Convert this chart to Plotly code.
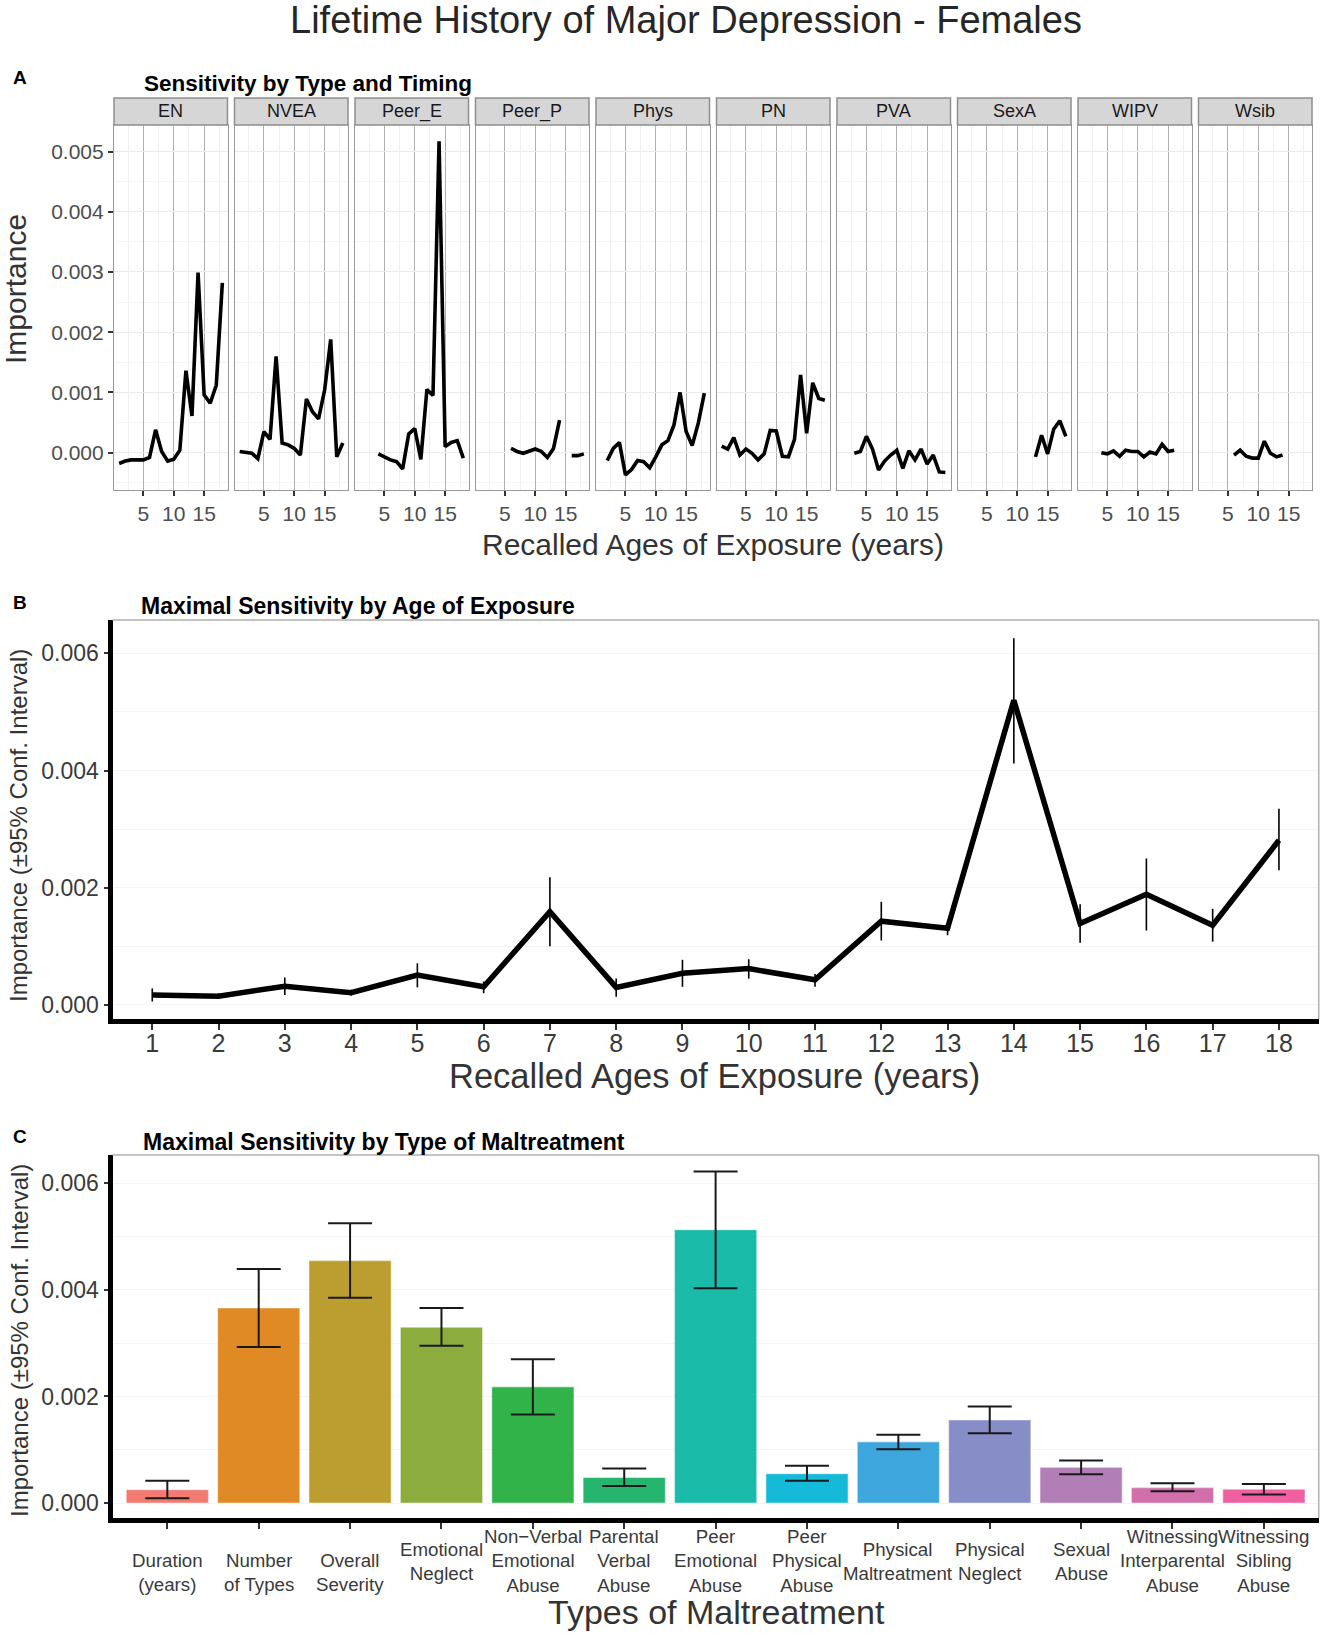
import plotly.graph_objects as go

W, H = 1323, 1635
FONT = "Liberation Sans, Arial, sans-serif"

# ---------------- data ----------------
ages = list(range(1, 19))
facet_names = ["EN", "NVEA", "Peer_E", "Peer_P", "Phys", "PN", "PVA", "SexA", "WIPV", "Wsib"]

EN = [-0.00018, -0.00014, -0.00012, -0.00012, -0.00012, -0.00008, 0.00038, 0.00002, -0.00014,
      -0.00011, 0.00004, 0.00136, 0.00061, 0.00299, 0.00096, 0.00082, 0.00112, 0.00282]
NVEA = [0.00002, 0.00001, -0.00001, -0.0001, 0.00035, 0.00022, 0.0016, 0.00016, 0.00013,
        0.00007, -0.00004, 0.00089, 0.00068, 0.00056, 0.00104, 0.00188, -0.00007, 0.00016]
Peer_E = [None, None, None, -0.00002, -0.00007, -0.00012, -0.00015, -0.00027, 0.00031,
          0.0004, -0.00011, 0.00105, 0.00095, 0.00517, 0.0001, 0.00017, 0.0002, -0.00009]
Peer_P = [None, None, None, None, None, 0.00007, 0.00002, -0.00001, 0.00003,
          0.00006, 0.00002, -0.00008, 0.00007, 0.00054, None, -0.00005, -0.00005, -0.00002]
Phys = [None, -0.00013, 0.00007, 0.00017, -0.00037, -0.00028, -0.00013, -0.00015, -0.00025,
        -0.00007, 0.00013, 0.0002, 0.00046, 0.001, 0.00035, 0.00012, 0.00049, 0.00099]
PN = [0.00011, 0.00006, 0.00025, -0.00004, 0.00006, -0.00001, -0.00012, -0.00002, 0.00037,
      0.00036, -0.00006, -0.00007, 0.00022, 0.00129, 0.00032, 0.00116, 0.0009, 0.00087]
PVA = [None, None, -0.00001, 0.00002, 0.00027, 0.00006, -0.00029, -0.00014, -0.00004,
       0.00004, -0.00026, 0.00003, -0.00012, 0.00006, -0.00019, -0.00004, -0.00032, -0.00033]
SexA = [None, None, None, None, None, None, None, None, None,
        None, None, None, -0.00007, 0.00029, -0.00002, 0.00039, 0.00053, 0.00027]
WIPV = [None, None, None, 0.0, -0.00002, 0.00003, -0.00006, 0.00004, 0.00002,
        0.00002, -0.00007, 0.00001, -0.00002, 0.00014, 0.00002, 0.00004, None, None]
Wsib = [None, None, None, None, None, -0.00004, 0.00004, -0.00006, -0.00009,
        -0.00009, 0.00019, -0.00001, -0.00007, -0.00004, None, None, None, None]
facet_series = [EN, NVEA, Peer_E, Peer_P, Phys, PN, PVA, SexA, WIPV, Wsib]

# Panel B
B_val = [0.00017, 0.00015, 0.00032, 0.00021, 0.00051, 0.00031, 0.00159, 0.0003, 0.00054,
         0.00062, 0.00043, 0.00143, 0.00131, 0.0052, 0.00139, 0.00189, 0.00136, 0.00281]
B_lo = [0.00006, 0.0001, 0.00017, 0.00016, 0.0003, 0.0002, 0.001, 0.00014, 0.00031,
        0.00045, 0.00031, 0.0011, 0.00119, 0.00412, 0.00106, 0.00127, 0.00108, 0.0023]
B_hi = [0.00028, 0.0002, 0.00047, 0.00026, 0.00071, 0.0004, 0.00218, 0.00045, 0.00077,
        0.00078, 0.00053, 0.00176, 0.00136, 0.00626, 0.00172, 0.0025, 0.00164, 0.00335]

# Panel C
C_labels = ["Duration<br>(years)", "Number<br>of Types", "Overall<br>Severity",
            "Emotional<br>Neglect", "Non\u2212Verbal<br>Emotional<br>Abuse",
            "Parental<br>Verbal<br>Abuse", "Peer<br>Emotional<br>Abuse",
            "Peer<br>Physical<br>Abuse", "Physical<br>Maltreatment", "Physical<br>Neglect",
            "Sexual<br>Abuse", "Witnessing<br>Interparental<br>Abuse",
            "Witnessing<br>Sibling<br>Abuse"]
C_val = [0.00025, 0.00366, 0.00455, 0.0033, 0.00218, 0.00048, 0.00513,
         0.00055, 0.00115, 0.00156, 0.00067, 0.00029, 0.00026]
C_lo = [0.00009, 0.00293, 0.00385, 0.00295, 0.00166, 0.00032, 0.00403,
        0.00042, 0.00101, 0.00131, 0.00054, 0.00022, 0.00016]
C_hi = [0.00042, 0.00439, 0.00525, 0.00366, 0.0027, 0.00065, 0.00622,
        0.0007, 0.00128, 0.00181, 0.0008, 0.00037, 0.00036]
C_colors = ["#F37A71", "#E08A25", "#BC9D30", "#8CAD3E", "#31B34A", "#26B56F", "#1ABBA8",
            "#16BAD9", "#3DA6DC", "#878DC6", "#B17EB5", "#D16FAA", "#EE609F"]
# label vertical alignment: 1 = bottom-aligned two-line labels, 0 = centered
C_label_low = [1, 1, 1, 0, 0, 0, 0, 0, 0, 0, 0, 0, 0]


def X(px):
    return px / W


def Y(py):
    return 1 - py / H


fig = go.Figure()
layout = dict(width=W, height=H, margin=dict(l=0, r=0, t=0, b=0),
              paper_bgcolor="white", plot_bgcolor="white", showlegend=False,
              font=dict(family=FONT, color="#333333"))
annotations = []
shapes = []

# ---------------- Panel A ----------------
pA_top, pA_bot = 125, 490
pA_left0, pA_w, pA_gap = 114, 113.5, 7
for i, (name, ser) in enumerate(zip(facet_names, facet_series)):
    k = i + 1
    left = pA_left0 + i * (pA_w + pA_gap)
    right = left + pA_w
    fig.add_trace(go.Scatter(x=ages, y=ser, mode="lines", connectgaps=False,
                             line=dict(color="black", width=3.6),
                             xaxis=f"x{k}", yaxis=f"y{k}", hoverinfo="skip"))
    layout[f"xaxis{k}"] = dict(
        domain=[X(left), X(right)], anchor=f"y{k}", range=[0.15, 18.85],
        tickvals=[5, 10, 15], ticks="outside", ticklen=5, tickwidth=1.5, tickcolor="#333333",
        tickfont=dict(size=21, color="#4d4d4d"), showgrid=True, gridcolor="#b0b0b0",
        gridwidth=1.2, zeroline=False, showline=True, mirror=True, linecolor="#9a9a9a",
        linewidth=1.2, minor=dict(tick0=2.5, dtick=5, showgrid=True, gridcolor="#f0f0f0"))
    yax = dict(domain=[Y(pA_bot), Y(pA_top)], anchor=f"x{k}", range=[-0.00062, 0.00544],
               tickvals=[0, 0.001, 0.002, 0.003, 0.004, 0.005], tickformat=".3f",
               showgrid=True, gridcolor="#ebebeb", zeroline=False, showline=True, mirror=True,
               linecolor="#9a9a9a", linewidth=1.2,
               minor=dict(dtick=0.001, tick0=0.0005, showgrid=True, gridcolor="#f5f5f5"))
    if k == 1:
        yax.update(ticks="outside", ticklen=5, tickwidth=1.5, tickcolor="#333333",
                   tickfont=dict(size=21, color="#4d4d4d"), showticklabels=True)
    else:
        yax.update(ticks="", showticklabels=False)
    layout[f"yaxis{k}"] = yax
    # strip
    shapes.append(dict(type="rect", xref="paper", yref="paper", x0=X(left), x1=X(right),
                       y0=Y(125), y1=Y(98), fillcolor="#d6d6d6",
                       line=dict(color="#8f8f8f", width=1.5), layer="above"))
    annotations.append(dict(text=name, x=X((left + right) / 2), y=Y(111.5), xref="paper",
                            yref="paper", showarrow=False, xanchor="center", yanchor="middle",
                            font=dict(size=18, color="#1a1a1a")))

# ---------------- Panel B ----------------
B_l, B_r, B_t, B_b = 112.5, 1318.7, 620, 1019
err_up = [h - v for h, v in zip(B_hi, B_val)]
err_dn = [v - lo for v, lo in zip(B_val, B_lo)]
fig.add_trace(go.Scatter(x=ages, y=B_val, mode="lines", line=dict(color="black", width=5.5),
                         error_y=dict(type="data", symmetric=False, array=err_up,
                                      arrayminus=err_dn, color="black", thickness=1.6, width=0),
                         xaxis="x11", yaxis="y11", hoverinfo="skip"))
layout["xaxis11"] = dict(domain=[X(B_l), X(B_r)], anchor="y11", range=[0.4, 18.6],
                         tickvals=ages, ticks="outside", ticklen=6, tickwidth=1.5,
                         tickcolor="#333333", tickfont=dict(size=25, color="#3a3a3a"),
                         ticklabelstandoff=-8,
                         showgrid=False, zeroline=False, showline=True, linewidth=5,
                         linecolor="black")
layout["yaxis11"] = dict(domain=[Y(B_b), Y(B_t)], anchor="x11", range=[-0.00024, 0.00657],
                         tickvals=[0, 0.002, 0.004, 0.006], tickformat=".3f", ticks="outside",
                         ticklen=4, tickwidth=1.5, tickcolor="#333333",
                         tickfont=dict(size=23, color="#3a3a3a"), showgrid=True,
                         gridcolor="#f4f4f4", zeroline=False, showline=True, linewidth=5,
                         linecolor="black",
                         minor=dict(dtick=0.001, showgrid=True, gridcolor="#f4f4f4"))

# ---------------- Panel C ----------------
C_l, C_r, C_t, C_b = 112.5, 1318.7, 1155, 1518
cx = list(range(1, len(C_val) + 1))
fig.add_trace(go.Bar(x=cx, y=C_val, width=0.9,
                     marker=dict(color=C_colors, line=dict(color="rgba(255,255,255,0.45)",
                                                           width=1.2)),
                     error_y=dict(type="data", symmetric=False,
                                  array=[h - v for h, v in zip(C_hi, C_val)],
                                  arrayminus=[v - lo for v, lo in zip(C_val, C_lo)],
                                  color="#1a1a1a", thickness=2, width=22),
                     xaxis="x12", yaxis="y12", hoverinfo="skip"))
layout["xaxis12"] = dict(domain=[X(C_l), X(C_r)], anchor="y12", range=[0.4, 13.6],
                         tickvals=cx, ticks="outside", ticklen=6, tickwidth=1.5,
                         tickcolor="#333333", showticklabels=False, showgrid=False,
                         zeroline=False, showline=True, linewidth=5, linecolor="black")
layout["yaxis12"] = dict(domain=[Y(C_b), Y(C_t)], anchor="x12", range=[-0.00028, 0.00653],
                         tickvals=[0, 0.002, 0.004, 0.006], tickformat=".3f", ticks="outside",
                         ticklen=4, tickwidth=1.5, tickcolor="#333333",
                         tickfont=dict(size=23, color="#3a3a3a"), showgrid=True,
                         gridcolor="#f4f4f4", zeroline=False, showline=True, linewidth=5,
                         linecolor="black",
                         minor=dict(dtick=0.001, showgrid=True, gridcolor="#f4f4f4"))

for lab, i, low in zip(C_labels, cx, C_label_low):
    annotations.append(dict(text=lab, x=i, xref="x12", y=Y(1572 if low else 1561),
                            yref="paper", showarrow=False, xanchor="center", yanchor="middle",
                            align="center", font=dict(size=18.7, color="#3a3a3a")))

# thin top/right borders for B and C
for (l, r, t, b) in [(B_l, B_r, B_t, B_b), (C_l, C_r, C_t, C_b)]:
    shapes.append(dict(type="line", xref="paper", yref="paper", x0=X(l), x1=X(r), y0=Y(t),
                       y1=Y(t), line=dict(color="#b0b0b0", width=1.5)))
    shapes.append(dict(type="line", xref="paper", yref="paper", x0=X(r), x1=X(r), y0=Y(t),
                       y1=Y(b), line=dict(color="#b0b0b0", width=1.5)))

# ---------------- texts ----------------
def txt(text, x, y, size, bold=False, xanchor="center", angle=0, color="#333333"):
    annotations.append(dict(text=f"<b>{text}</b>" if bold else text, x=X(x), y=Y(y),
                            xref="paper", yref="paper", showarrow=False, xanchor=xanchor,
                            yanchor="middle", textangle=angle,
                            font=dict(size=size, color=color)))

txt("Lifetime History of Major Depression - Females", 686, 20, 38, color="#262626")
txt("A", 11, 77, 19, bold=True, xanchor="left", color="#000000")
txt("Sensitivity by Type and Timing", 142, 83, 22.5, bold=True, xanchor="left",
    color="#000000")
txt("Importance", 15, 289, 30, angle=-90)
txt("Recalled Ages of Exposure (years)", 713, 545, 30)

txt("B", 11, 602, 19, bold=True, xanchor="left", color="#000000")
txt("Maximal Sensitivity by Age of Exposure", 139, 606, 23, bold=True, xanchor="left",
    color="#000000")
txt("Importance (\u00b195% Conf. Interval)", 19, 826, 24, angle=-90)
txt("Recalled Ages of Exposure (years)", 715, 1076, 34.5)

txt("C", 11, 1136, 19, bold=True, xanchor="left", color="#000000")
txt("Maximal Sensitivity by Type of Maltreatment", 141, 1142, 23, bold=True, xanchor="left",
    color="#000000")
txt("Importance (\u00b195% Conf. Interval)", 19, 1341, 24, angle=-90)
txt("Types of Maltreatment", 716, 1612, 34)

layout["annotations"] = annotations
layout["shapes"] = shapes
fig.update_layout(**layout)
fig.write_html("out.html", config={"displayModeBar": False},
               post_script="document.body.style.margin='0';document.body.style.overflow='hidden';")
